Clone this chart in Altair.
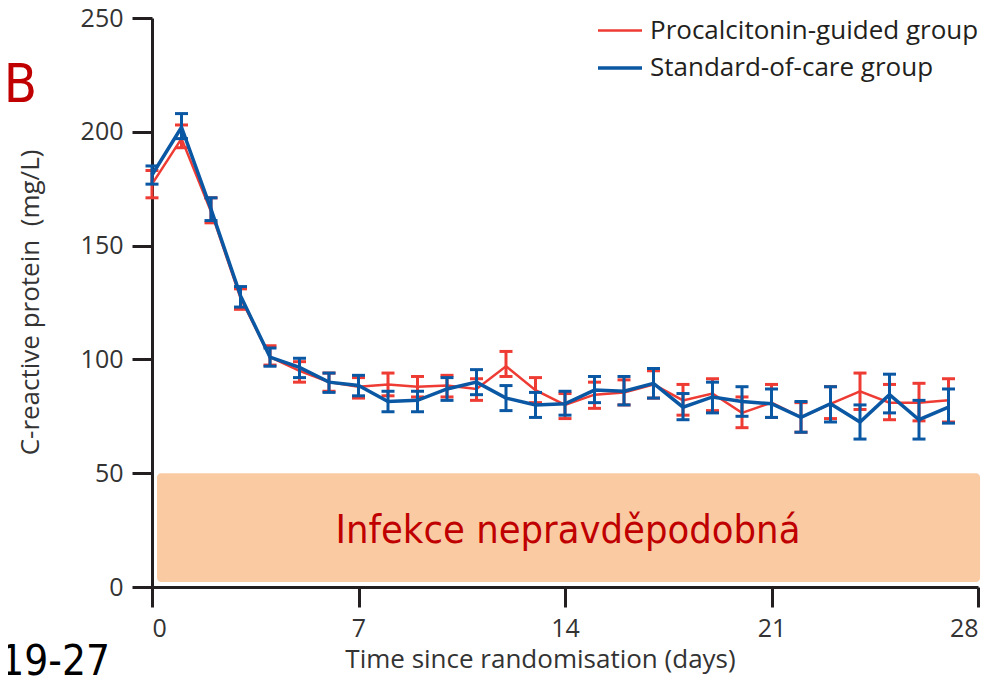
import altair as alt
import pandas as pd

# ---- data ----
days = list(range(28))
groups = ["Procalcitonin-guided group", "Standard-of-care group"]

pct_mean = [177, 197, 165, 127, 101, 95, 90, 88, 89, 88, 88.5, 87, 97, 86.5,
            80, 84.5, 85.5, 89, 82, 85, 76.5, 81, 74.5, 80.5, 86, 81, 81, 82]
pct_lo = [171, 193, 160, 122, 97.5, 90, 86, 83, 84, 83.5, 83.5, 82, 92.5, 81,
          74, 78.5, 80, 83, 75.5, 77.5, 70, 74.5, 68, 74, 78, 73.5, 73, 72.5]
pct_hi = [183, 203, 171, 131, 106, 99, 94, 92, 94, 92.5, 93, 91.5, 103.5, 92,
          85, 90, 91, 95, 89, 91.5, 83.5, 89, 81, 88, 94, 89, 89.5, 91.5]

soc_mean = [181, 202, 166, 128, 101, 96.5, 90, 88.5, 81.5, 82, 87, 90, 83, 80,
            80.5, 86.5, 86, 89.5, 79, 83.5, 81.5, 80.5, 74.5, 80.5, 72.5, 84.5, 73.5, 79]
soc_lo = [177, 197, 161, 123, 97, 92, 85.5, 84, 77, 77, 82, 84.5, 77.5, 74.5,
          75.5, 81, 80, 83, 73.5, 76.5, 75, 74.5, 68, 72.5, 65, 76.5, 65, 72]
soc_hi = [185, 208, 171, 132, 105, 100.5, 94, 93, 86, 86, 92, 95.5, 88.5, 85.5,
          86, 92.5, 92.5, 96, 85, 90, 88, 87, 81.5, 88, 80, 93.5, 82, 87]

band_x = [0.17]
band_x2 = [28.07]
band_y = [2.2]
band_y2 = [50]
band_label = ["Infekce nepravděpodobná"]
band_label_x = [14.1]
band_label_y = [24.5]

x_ticks = [0, 7, 14, 21, 28]
y_ticks = [0, 50, 100, 150, 200, 250]

RED = "#EE3B33"
BLUE = "#0A57A3"
INK = "#231F20"
FONT = "Open Sans"
NARROW = "'DejaVu Sans Condensed', 'Liberation Sans', Arial, sans-serif"

rows = []
for g, m, lo, hi in [(groups[0], pct_mean, pct_lo, pct_hi),
                     (groups[1], soc_mean, soc_lo, soc_hi)]:
    for d, a, b, c in zip(days, m, lo, hi):
        rows.append({"group": g, "day": d, "mean": a, "lo": b, "hi": c})
df = pd.DataFrame(rows)

band_df = pd.DataFrame({"x": band_x, "x2": band_x2, "y": band_y, "y2": band_y2})
label_df = pd.DataFrame({"x": band_label_x, "y": band_label_y, "t": band_label})

xscale = alt.Scale(domain=[0, 28], nice=False, zero=False)
yscale = alt.Scale(domain=[0, 250], nice=False)

X = alt.X("day:Q", scale=xscale,
          axis=alt.Axis(values=x_ticks, title="Time since randomisation (days)",
                        titleX=388, titleY=80, titleBaseline="alphabetic",
                        titleAnchor="start", titleAlign="center"))
Y = alt.Y("mean:Q", scale=yscale,
          axis=alt.Axis(values=y_ticks, title="C-reactive protein\u00a0 (mg/L)",
                        titleX=-122, titleY=284, titleAngle=-90,
                        titleAlign="center", titleBaseline="middle"))

band = alt.Chart(band_df).mark_rect(color="#FACBA3", cornerRadius=4).encode(
    x=alt.X("x:Q", scale=xscale), x2="x2:Q",
    y=alt.Y("y:Q", scale=yscale), y2="y2:Q")

band_text = alt.Chart(label_df).mark_text(
    font=NARROW, fontSize=39.5, color="#C00000",
    align="center", baseline="middle").encode(
    x=alt.X("x:Q", scale=xscale), y=alt.Y("y:Q", scale=yscale), text="t:N")

color_enc = alt.Color("group:N", scale=alt.Scale(domain=groups, range=[RED, BLUE]),
                      legend=alt.Legend(orient="none", legendX=444, legendY=-11,
                                        title=None, symbolType="stroke",
                                        symbolSize=1936, labelFont=FONT,
                                        labelFontSize=26, labelColor=INK,
                                        labelOffset=6, rowPadding=0, labelLimit=0))
sw_enc = alt.StrokeWidth("group:N", scale=alt.Scale(domain=groups, range=[2.5, 3.5]),
                         legend=None)


def series(g, col):
    base = alt.Chart(df).transform_filter(alt.datum.group == g)
    line = base.mark_line().encode(x=X, y=Y, color=color_enc, strokeWidth=sw_enc,
                                   order="day:Q")
    bars = base.mark_rule(color=col, strokeWidth=3, opacity=1).encode(
        x=alt.X("day:Q", scale=xscale), y=alt.Y("lo:Q", scale=yscale), y2="hi:Q")
    cap_lo = base.mark_tick(color=col, orient="horizontal", size=13, thickness=3,
                            opacity=1).encode(
        x=alt.X("day:Q", scale=xscale), y=alt.Y("lo:Q", scale=yscale))
    cap_hi = base.mark_tick(color=col, orient="horizontal", size=13, thickness=3,
                            opacity=1).encode(
        x=alt.X("day:Q", scale=xscale), y=alt.Y("hi:Q", scale=yscale))
    return [line, bars, cap_lo, cap_hi]


tb = alt.Chart(pd.DataFrame({"t": ["TB"]})).mark_text(
    font=NARROW, fontSize=54, color="#C00000", align="right",
    baseline="alphabetic").encode(x=alt.value(-115), y=alt.value(84), text="t:N")
ref = alt.Chart(pd.DataFrame({"t": ["319-27"]})).mark_text(
    font=NARROW, fontSize=42, color="#000000", align="right",
    baseline="alphabetic").encode(x=alt.value(-42), y=alt.value(657), text="t:N")

chart = alt.layer(band, band_text, *series(groups[0], RED), *series(groups[1], BLUE),
                  tb, ref).resolve_scale(color="shared").properties(
    width=826, height=569,
    autosize=alt.AutoSizeParams(type="none"),
    padding={"left": 144, "top": 10, "right": 21, "bottom": 100},
).configure_view(stroke="transparent").configure_axis(
    grid=False, domainColor=INK, domainWidth=3, tickColor=INK, tickWidth=3,
    tickSize=20, labelFont=FONT, labelFontSize=25, labelColor="#333333",
    labelPadding=9, titleFont=FONT, titleFontSize=26, titleFontWeight="normal",
    titleColor="#333333",
)

chart.save("out.html", embed_options={"renderer": "svg", "actions": False})
